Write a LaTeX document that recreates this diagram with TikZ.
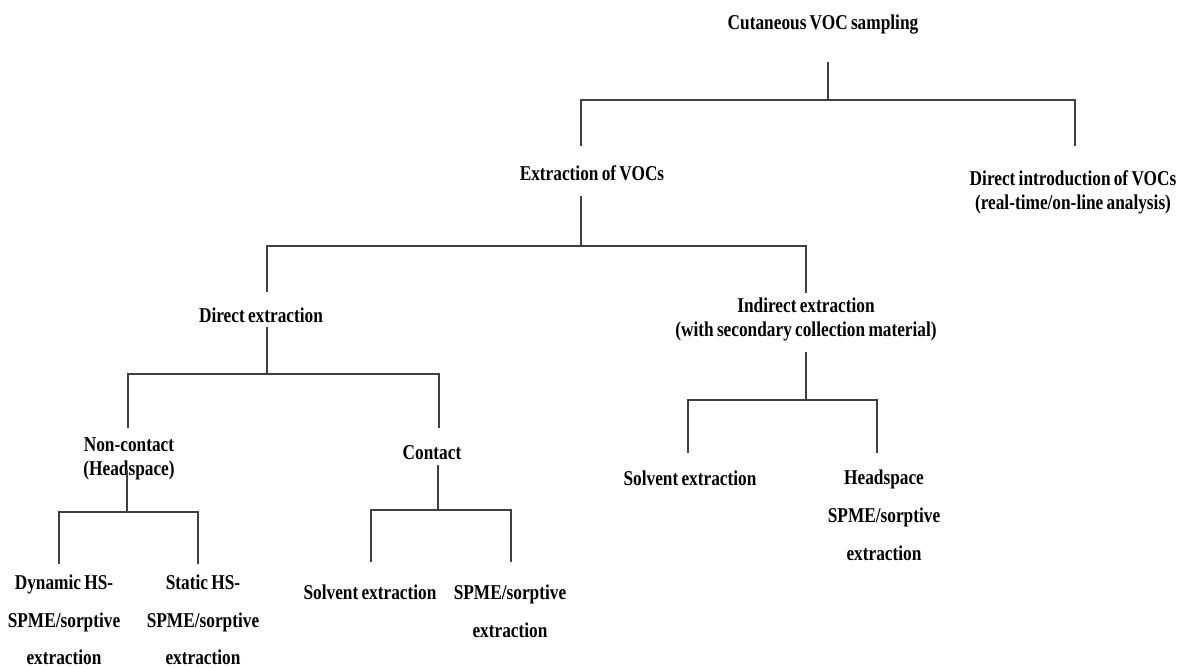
\documentclass[tikz,border=0pt]{standalone}
\usepackage{fontspec}
\setmainfont{Liberation Serif}[FakeStretch=0.82,WordSpace=0.75]
\usetikzlibrary{calc,positioning}

\begin{document}
\begin{tikzpicture}[x=0.02cm,y=-0.02cm,
    every node/.style={align=center,inner sep=0pt,font=\bfseries\fontsize{12}{13.6}\selectfont},
    tall/.style={font=\bfseries\fontsize{12}{21.5}\selectfont},
    link/.style={draw=black!75,line width=0.6pt}]
                \useasboundingbox (0,0) rectangle (1180,667);

                % levels of the sampling tree
                \node (root) at (823,25) {Cutaneous VOC sampling};
                \node (ext) at (592,173) {Extraction of VOCs};
                \node (dio) at (1073,192) {Direct introduction of VOCs\\(real-time/on-line analysis)};
                \node (dex) at (261,315) {Direct extraction};
                \node (iex) at (806,319.5) {Indirect extraction\\(with secondary collection material)};
                \node (nco) at (129,459) {Non-contact\\(Headspace)};
                \node (con) at (432,453) {Contact};
                \node[tall] (dyn) at (64,620) {Dynamic HS-\\SPME/sorptive\\extraction};
                \node[tall] (sta) at (203,620) {Static HS-\\SPME/sorptive\\extraction};
                \node (csol) at (370,592) {Solvent extraction};
                \node[tall] (cspm) at (510,611.5) {SPME/sorptive\\extraction};
                \node (isol) at (690,478) {Solvent extraction};
                \node[tall] (ihs) at (884,515.5) {Headspace\\SPME/sorptive\\extraction};

                % forks
                \draw[link] ($(root)+(5,37)$) -- ++(0,38) -| ($(ext)+(-11,-27)$);
                \draw[link] ($(root)+(5,37)$) -- ++(0,38) -| ($(dio)+(2,-46)$);

                \draw[link] ($(ext)+(-11,23)$) -- ++(0,50) -| ($(dex)+(6,-23)$);
                \draw[link] ($(ext)+(-11,23)$) -- ++(0,50) -| ($(iex)+(0,-26.5)$);

                \draw[link] ($(dex)+(6,12)$) -- ++(0,47) -| ($(nco)+(-1,-31)$);
                \draw[link] ($(dex)+(6,12)$) -- ++(0,47) -| ($(con)+(7,-25)$);

                \draw[link] ($(nco)+(-2,11)$) -- ++(0,42) -| ($(dyn)+(-5,-56)$);
                \draw[link] ($(nco)+(-2,11)$) -- ++(0,42) -| ($(sta)+(-5,-56)$);

                \draw[link] ($(con)+(6,12)$) -- ++(0,45) -| ($(csol)+(1,-30)$);
                \draw[link] ($(con)+(6,12)$) -- ++(0,45) -| ($(cspm)+(1,-49.5)$);

                \draw[link] ($(iex)+(0,32.5)$) -- ++(0,48) -| ($(isol)+(-2,-25)$);
                \draw[link] ($(iex)+(0,32.5)$) -- ++(0,48) -| ($(ihs)+(-7,-62.5)$);

            \end{tikzpicture}
\end{document}
